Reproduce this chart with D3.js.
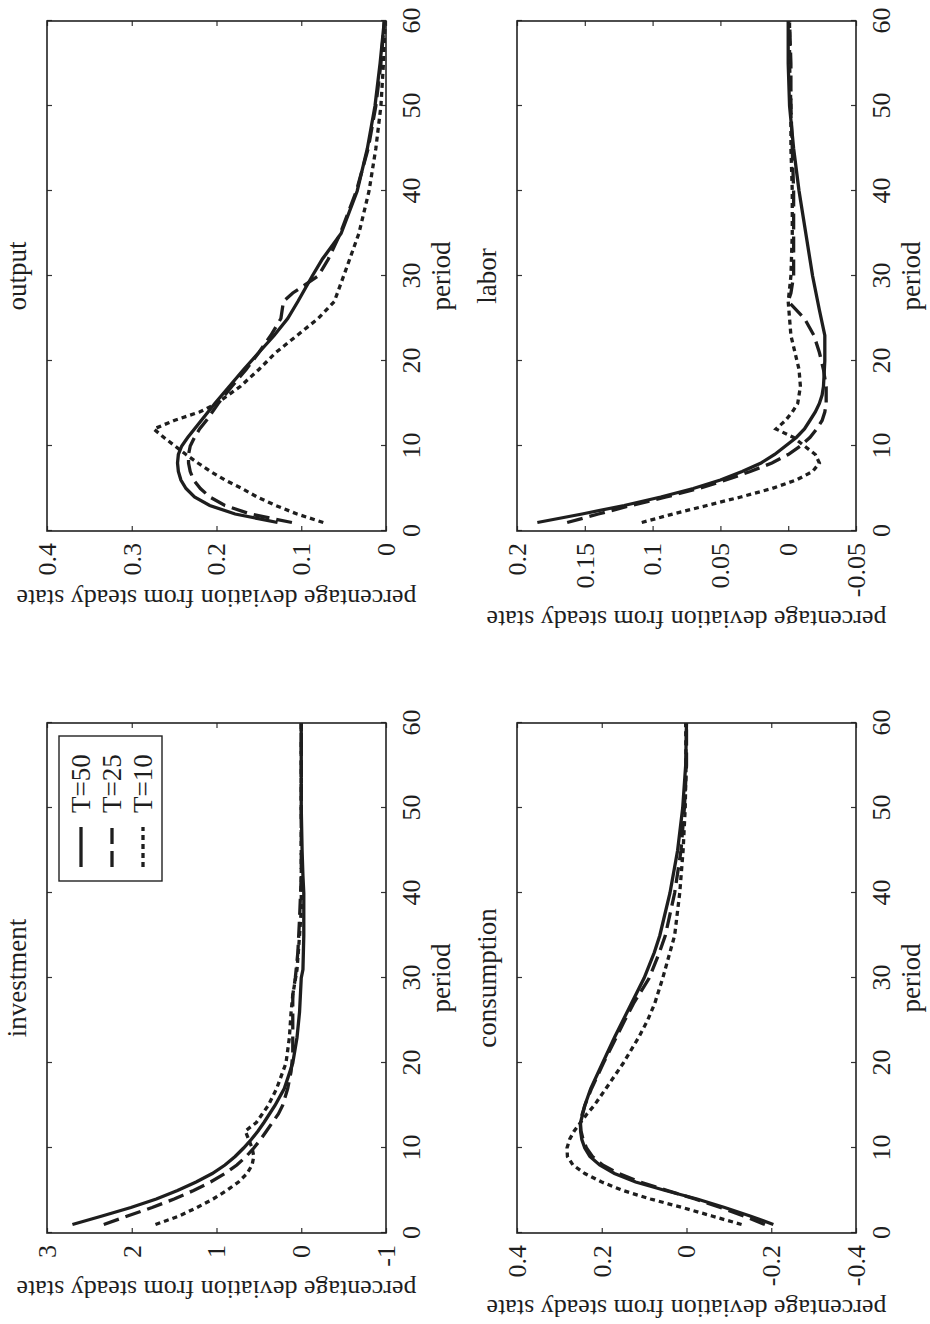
<!DOCTYPE html>
<html>
<head>
<meta charset="utf-8">
<script src="https://cdn.jsdelivr.net/npm/d3@7"></script>
<style>
  body { margin: 0; background: #fff; }
  text { font-family: "Liberation Serif", "Times New Roman", serif; fill: #1e1e1e; }
</style>
</head>
<body>
<script>
// impulse responses, [period, % deviation from steady state]
var investT50 = [[1,2.70],[2,2.35],[3,2.01],[4,1.71],[5,1.46],[6,1.24],[7,1.05],[8,0.90],[9,0.78],[10,0.68],[11,0.59],[12,0.51],[13,0.44],[15,0.31],[17,0.20],[20,0.10],[23,0.05],[26,0.02],[30,0.0],[31,-0.02],[35,-0.03],[40,-0.03],[42,-0.02],[45,-0.01],[50,0.0],[55,0.0],[60,0.0]];
var investT25 = [[1,2.33],[2,2.05],[3,1.76],[4,1.50],[5,1.27],[6,1.07],[7,0.90],[8,0.76],[9,0.65],[10,0.56],[11,0.48],[12,0.41],[13,0.34],[14,0.27],[15,0.22],[17,0.16],[19,0.12],[21,0.10],[25,0.10],[28,0.10],[30,0.07],[33,0.04],[37,0.02],[42,0.0],[50,0.0],[60,0.0]];
var investT10 = [[1,1.72],[2,1.44],[3,1.23],[4,1.04],[5,0.88],[6,0.74],[7,0.64],[8,0.58],[9,0.56],[10,0.58],[11,0.62],[12,0.66],[13,0.53],[14,0.46],[15,0.39],[17,0.29],[20,0.18],[23,0.14],[26,0.12],[28,0.10],[31,0.05],[35,0.02],[38,0.0],[45,0.0],[60,0.0]];

var outputT50 = [[1,0.128],[2,0.178],[3,0.208],[4,0.226],[5,0.236],[6,0.242],[7,0.245],[8,0.246],[9,0.245],[10,0.241],[11,0.234],[12,0.226],[13,0.218],[15,0.202],[17,0.185],[19,0.168],[21,0.150],[23,0.132],[25,0.116],[27,0.104],[30,0.087],[32,0.075],[35,0.053],[40,0.034],[45,0.022],[50,0.013],[55,0.007],[60,0.002]];
var outputT25 = [[1,0.111],[2,0.160],[3,0.190],[4,0.208],[5,0.219],[6,0.227],[7,0.231],[8,0.233],[9,0.233],[10,0.231],[11,0.226],[12,0.220],[13,0.212],[15,0.198],[17,0.182],[19,0.165],[21,0.150],[23,0.136],[25,0.124],[27,0.121],[28,0.110],[30,0.080],[32,0.068],[35,0.054],[40,0.035],[45,0.021],[50,0.012],[55,0.006],[60,0.002]];
var outputT10 = [[1,0.074],[2,0.105],[3,0.130],[4,0.152],[5,0.170],[6,0.190],[7,0.207],[8,0.222],[9,0.236],[10,0.249],[11,0.262],[12,0.274],[13,0.250],[14,0.220],[15,0.200],[17,0.172],[19,0.150],[21,0.130],[23,0.105],[25,0.080],[27,0.061],[30,0.050],[35,0.032],[40,0.020],[45,0.012],[50,0.006],[55,0.003],[60,0.001]];

var consT50 = [[1,-0.205],[2,-0.15],[3,-0.09],[4,-0.025],[5,0.05],[6,0.12],[7,0.17],[8,0.205],[9,0.228],[10,0.240],[11,0.247],[12,0.250],[13,0.250],[14,0.245],[15,0.240],[17,0.226],[20,0.198],[23,0.170],[25,0.150],[27,0.130],[30,0.100],[33,0.076],[35,0.063],[40,0.039],[45,0.021],[50,0.009],[55,0.002],[60,0.0]];
var consT25 = [[1,-0.185],[2,-0.135],[3,-0.08],[4,-0.02],[5,0.045],[6,0.11],[7,0.16],[8,0.198],[9,0.222],[10,0.236],[11,0.244],[12,0.249],[13,0.251],[14,0.246],[15,0.240],[17,0.224],[20,0.196],[23,0.166],[25,0.146],[27,0.125],[30,0.088],[33,0.064],[35,0.050],[40,0.028],[45,0.013],[50,0.005],[55,0.0],[60,0.0]];
var consT10 = [[1,-0.13],[2,-0.06],[3,0.01],[4,0.085],[5,0.15],[6,0.20],[7,0.24],[8,0.268],[9,0.281],[10,0.282],[11,0.276],[12,0.265],[13,0.250],[14,0.235],[15,0.218],[17,0.190],[20,0.149],[23,0.113],[25,0.092],[27,0.075],[30,0.056],[35,0.028],[40,0.016],[45,0.008],[50,0.003],[55,0.001],[60,0.002]];

var laborT50 = [[1,0.185],[2,0.152],[3,0.121],[4,0.094],[5,0.070],[6,0.050],[7,0.034],[8,0.020],[9,0.010],[10,0.002],[11,-0.006],[12,-0.012],[13,-0.016],[14,-0.020],[15,-0.023],[16,-0.025],[17,-0.026],[20,-0.027],[23,-0.027],[26,-0.023],[30,-0.018],[35,-0.013],[40,-0.008],[45,-0.004],[50,-0.001],[55,0.0],[60,0.0]];
var laborT25 = [[1,0.163],[2,0.140],[3,0.116],[4,0.090],[5,0.066],[6,0.046],[7,0.028],[8,0.012],[9,0.0],[10,-0.009],[11,-0.016],[12,-0.021],[13,-0.025],[14,-0.027],[15,-0.028],[17,-0.028],[19,-0.026],[21,-0.023],[23,-0.019],[25,-0.012],[27,0.0],[28,-0.002],[30,-0.004],[35,-0.004],[40,-0.004],[45,-0.003],[50,-0.002],[55,-0.002],[60,-0.001]];
var laborT10 = [[1,0.108],[2,0.085],[3,0.060],[4,0.035],[5,0.012],[6,-0.006],[7,-0.018],[8,-0.023],[9,-0.020],[10,-0.012],[11,-0.004],[12,0.009],[13,0.002],[14,-0.003],[15,-0.007],[17,-0.009],[19,-0.008],[21,-0.005],[23,-0.002],[25,-0.001],[27,0.0],[30,-0.002],[35,-0.003],[40,-0.003],[45,-0.002],[50,-0.002],[55,-0.001],[60,-0.001]];

var periodTicks = [0, 10, 20, 30, 40, 50, 60];
var investTicks = [-1, 0, 1, 2, 3];
var outputTicks = [0, 0.1, 0.2, 0.3, 0.4];
var consTicks = [-0.4, -0.2, 0, 0.2, 0.4];
var laborTicks = [-0.05, 0, 0.05, 0.1, 0.15, 0.2];
var legendLabels = ["T=50", "T=25", "T=10"];

// the page shows the figure turned a quarter turn; draw it upright, then rotate
var W = 1324, H = 930;
var colX = [91, 793], rowY = [47, 517];
var pw = 510, ph = 339;
var dashes = [null, "16,7", "5,4"];
var fs = 26, lfs = 27;

var panels = [
    {title: "investment", col: 0, row: 0, ticks: investTicks, series: [investT50, investT25, investT10], legend: true},
    {title: "output", col: 1, row: 0, ticks: outputTicks, series: [outputT50, outputT25, outputT10]},
    {title: "consumption", col: 0, row: 1, ticks: consTicks, series: [consT50, consT25, consT10]},
    {title: "labor", col: 1, row: 1, ticks: laborTicks, series: [laborT50, laborT25, laborT10]}
];

var svg = d3.select("body").append("svg")
    .attr("width", 930)
    .attr("height", 1324);

var fig = svg.append("g")
    .attr("transform", "translate(0," + W + ") rotate(-90)");

panels.forEach(function(p){
    var x0 = colX[p.col], y0 = rowY[p.row];
    var x = d3.scaleLinear().domain([0, 60]).range([x0, x0 + pw]);
    var y = d3.scaleLinear().domain(d3.extent(p.ticks)).range([y0 + ph, y0]);
    var g = fig.append("g");

    // ticks point inward on all four sides
    g.append("g").attr("transform", "translate(0," + (y0 + ph) + ")")
        .call(d3.axisBottom(x).tickValues(periodTicks).tickSize(-5).tickPadding(16).tickFormat(function(d){return String(d);}));
    g.append("g").attr("transform", "translate(0," + y0 + ")")
        .call(d3.axisTop(x).tickValues(periodTicks).tickSize(-5).tickFormat(""));
    var left = g.append("g").attr("transform", "translate(" + x0 + ",0)")
        .call(d3.axisLeft(y).tickValues(p.ticks).tickSize(-5).tickPadding(12).tickFormat(function(d){return String(d);}));
    g.append("g").attr("transform", "translate(" + (x0 + pw) + ",0)")
        .call(d3.axisRight(y).tickValues(p.ticks).tickSize(-5).tickFormat(""));

    g.selectAll(".domain").remove();
    g.selectAll(".tick line").attr("stroke", "#333").attr("stroke-width", 1.2);
    g.selectAll(".tick text").attr("font-size", fs).attr("font-family", "Liberation Serif").attr("fill", "#1e1e1e");

    var lineGen = d3.line()
        .x(function(d){return x(d[0]);})
        .y(function(d){return y(d[1]);});

    p.series.forEach(function(s, i){
        g.append("path")
            .datum(s)
            .attr("d", lineGen)
            .attr("fill", "none")
            .attr("stroke", "#1e1e1e")
            .attr("stroke-width", 3.3)
            .attr("stroke-dasharray", dashes[i]);
    });

    g.append("rect")
        .attr("x", x0).attr("y", y0)
        .attr("width", pw).attr("height", ph)
        .attr("fill", "none")
        .attr("stroke", "#222")
        .attr("stroke-width", 1.6);

    g.append("text")
        .attr("x", x0 + pw / 2).attr("y", y0 - 21)
        .attr("text-anchor", "middle")
        .attr("font-size", lfs)
        .text(p.title);

    g.append("text")
        .attr("x", x0 + pw / 2).attr("y", y0 + ph + 64)
        .attr("text-anchor", "middle")
        .attr("font-size", lfs)
        .text("period");

    var maxW = 0;
    left.selectAll("text").each(function(){
        maxW = Math.max(maxW, this.getComputedTextLength());
    });
    var lx = x0 - 12 - maxW - 14;
    g.append("text")
        .attr("transform", "translate(" + lx + "," + (y0 + ph / 2) + ") rotate(-90)")
        .attr("text-anchor", "middle")
        .attr("font-size", fs)
        .text("percentage deviation from steady state");

    if (p.legend) {
        var lg = g.append("g");
        var bx = x0 + pw - 13 - 145;
        lg.append("rect")
            .attr("x", bx).attr("y", y0 + 12)
            .attr("width", 145).attr("height", 103)
            .attr("fill", "#fff")
            .attr("stroke", "#222")
            .attr("stroke-width", 1.4);
        legendLabels.forEach(function(lab, i){
            var cy = y0 + 34 + i * 31;
            lg.append("line")
                .attr("x1", bx + 14).attr("x2", bx + 54)
                .attr("y1", cy).attr("y2", cy)
                .attr("stroke", "#1e1e1e")
                .attr("stroke-width", 3.3)
                .attr("stroke-dasharray", dashes[i]);
            lg.append("text")
                .attr("x", bx + 68).attr("y", cy)
                .attr("dy", "0.35em")
                .attr("font-size", lfs)
                .text(lab);
        });
    }
});
</script>
</body>
</html>
